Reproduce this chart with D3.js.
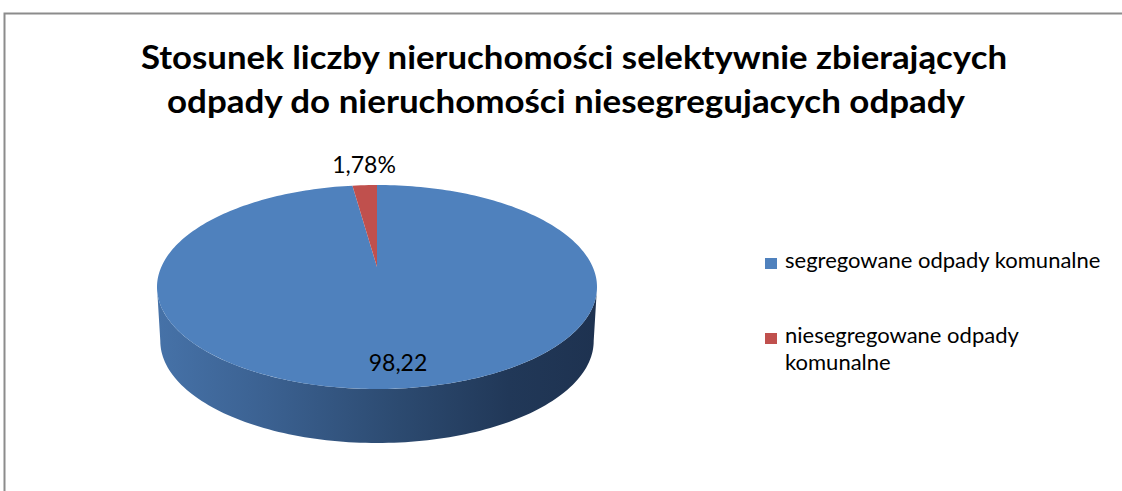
<!DOCTYPE html>
<html>
<head>
<meta charset="utf-8">
<script src="https://cdn.jsdelivr.net/npm/d3@7/dist/d3.min.js"></script>
<style>
  html, body { margin: 0; padding: 0; background: #fff; }
  svg { display: block; }
</style>
</head>
<body>
<svg id="chart" width="1122" height="491"></svg>
<script>
// ---- data ----
const categories = ["segregowane odpady komunalne", "niesegregowane odpady komunalne"];
const values = [98.22, 1.78];
const dataLabels = ["98,22", "1,78%"];
const legendLines = [["segregowane odpady komunalne"], ["niesegregowane odpady", "komunalne"]];
const colors = ["#4F81BD", "#C0504D"];
const titleLines = ["Stosunek liczby nieruchomości selektywnie zbierających",
                    "odpady do nieruchomości niesegregujacych odpady"];

// ---- layout ----
const W = 1122, H = 491;
const FONT = "Lato, 'Open Sans', sans-serif";
const svg = d3.select("#chart");

// chart border
svg.append("rect").attr("x", 4.5).attr("y", 13.5).attr("width", W + 20).attr("height", H + 20)
  .attr("fill", "#fff").attr("stroke", "#8c8c8c").attr("stroke-width", 2);

// title
const titleWidths = [866, 798];
const titleX = [574, 566];
const title = svg.append("text").attr("text-anchor", "middle")
  .attr("font-family", FONT).attr("font-weight", "bold").attr("font-size", 32).attr("fill", "#000");
titleLines.forEach((t, i) => {
  title.append("tspan").attr("x", titleX[i]).attr("y", 69 + i * 44)
    .attr("textLength", titleWidths[i]).attr("lengthAdjust", "spacingAndGlyphs").text(t);
});

// pie geometry
const cx = 377, cy = 287, rx = 220, ry = 102, depth = 54, apexShift = -20;
const pie = d3.pie().sort(null).value(d => d)(values);
const angleScale = d3.scaleLinear().domain([0, 2 * Math.PI]).range([0, 2 * Math.PI]);
const pt = (a, yOff = 0) => [cx + rx * Math.sin(angleScale(a)), cy - ry * Math.cos(angleScale(a)) + yOff];

// side wall gradient
const defs = svg.append("defs");
const grad = defs.append("linearGradient").attr("id", "sideGrad")
  .attr("gradientUnits", "userSpaceOnUse")
  .attr("x1", cx - rx).attr("x2", cx + rx).attr("y1", 0).attr("y2", 0);
[["0", "#4672a8"], ["0.25", "#3b6191"], ["0.55", "#2c4a70"], ["0.8", "#213858"], ["1", "#1e3250"]]
  .forEach(([o, c]) => grad.append("stop").attr("offset", o).attr("stop-color", c));

// side wall (front half, from 90deg to 270deg)
function sidePath() {
  const steps = 120;
  const a0 = Math.PI / 2, a1 = 3 * Math.PI / 2;
  const top = d3.range(steps + 1).map(i => pt(a0 + (a1 - a0) * i / steps));
  const taper = 0.985;
  const bottom = top.slice().reverse().map(([x, y]) => [cx + (x - cx) * taper, y + depth]);
  return d3.line()(top.concat(bottom)) + "Z";
}
svg.append("path").attr("d", sidePath()).attr("fill", "url(#sideGrad)");

// top faces
const apex = [cx, cy + apexShift];
function slicePath(s) {
  const steps = Math.max(4, Math.ceil((s.endAngle - s.startAngle) / 0.02));
  const pts = d3.range(steps + 1).map(i => pt(s.startAngle + (s.endAngle - s.startAngle) * i / steps));
  return d3.line()([apex].concat(pts)) + "Z";
}
svg.selectAll("path.slice").data(pie).enter().append("path")
  .attr("class", "slice")
  .attr("d", d => slicePath(d))
  .attr("fill", (d, i) => colors[i]);

// data labels
svg.append("text").attr("x", 398).attr("y", 371).attr("text-anchor", "middle")
  .attr("font-family", FONT).attr("font-size", 23).attr("fill", "#000").text(dataLabels[0]);
svg.append("text").attr("x", 364).attr("y", 173).attr("text-anchor", "middle")
  .attr("font-family", FONT).attr("font-size", 23).attr("fill", "#000").text(dataLabels[1]);

// legend
const legY = [268, 343];
categories.forEach((c, i) => {
  svg.append("rect").attr("x", 765).attr("y", legY[i] - 10).attr("width", 12).attr("height", 11)
    .attr("fill", colors[i]);
  const t = svg.append("text").attr("font-family", FONT).attr("font-size", 22).attr("fill", "#000");
  legendLines[i].forEach((l, j) => {
    t.append("tspan").attr("x", 785).attr("y", legY[i] + j * 27).text(l);
  });
});
</script>
</body>
</html>
